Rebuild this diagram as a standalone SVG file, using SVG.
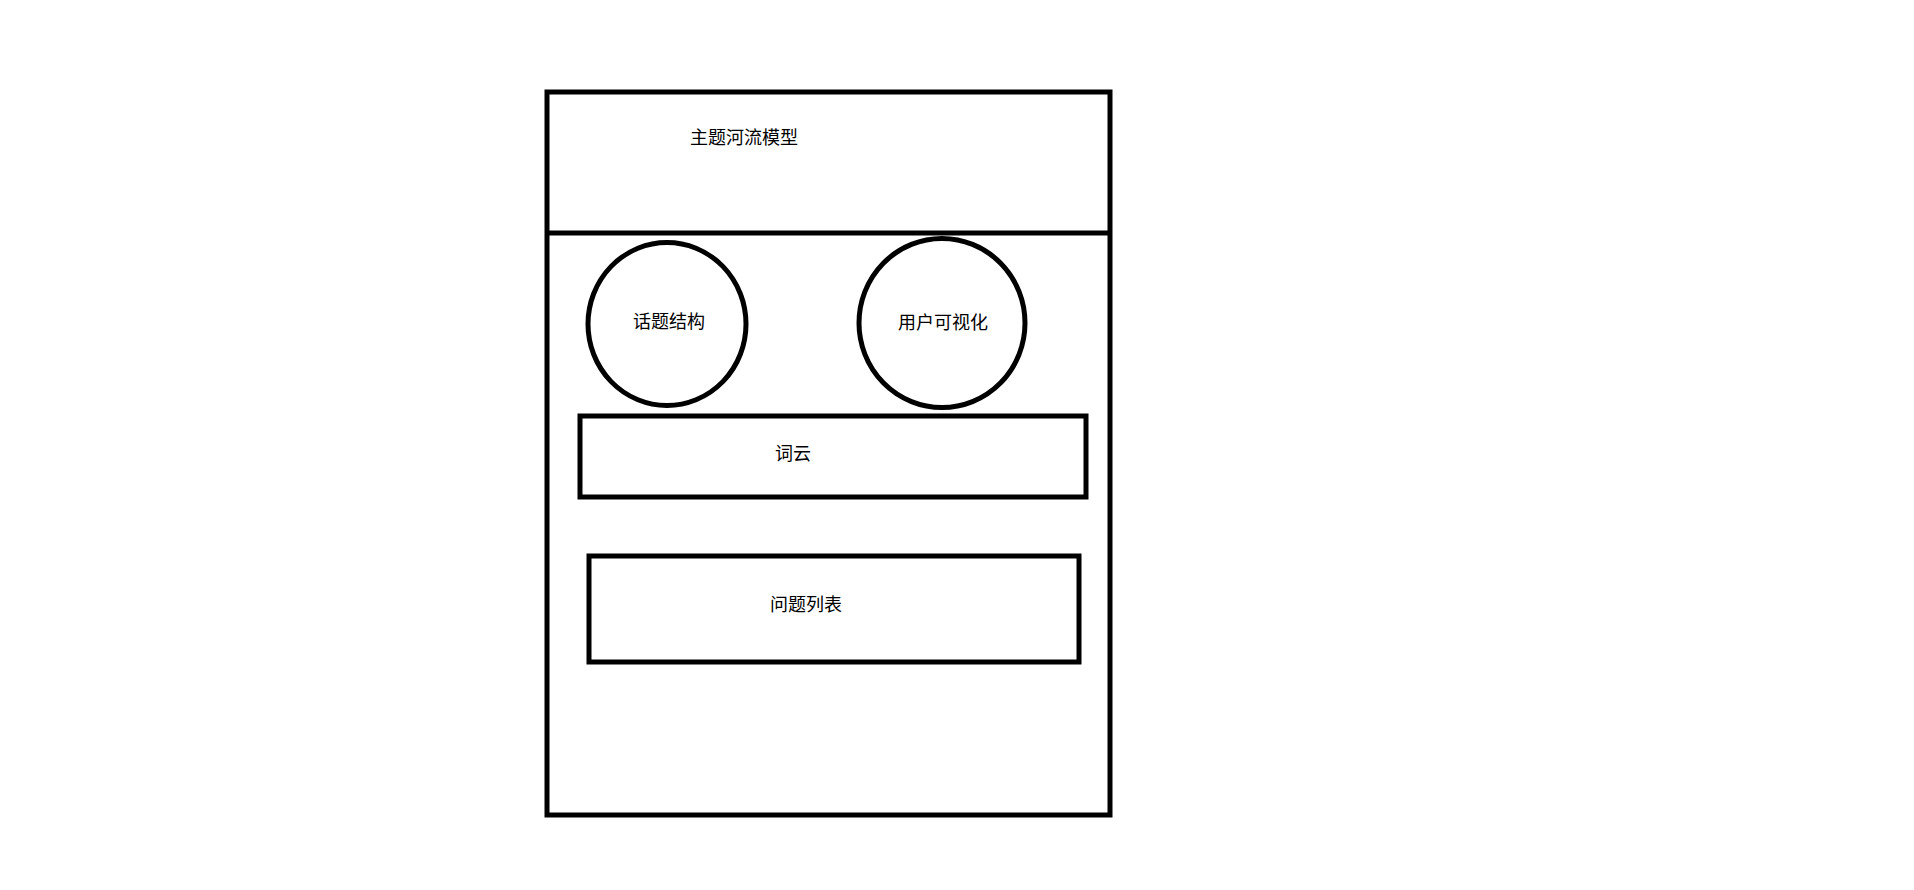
<svg xmlns="http://www.w3.org/2000/svg" width="1914" height="890" viewBox="0 0 1914 890">
<style>
.s{fill:none;stroke:#000;stroke-width:5}
.t{font-family:"Microsoft YaHei","Noto Sans CJK SC",sans-serif;font-size:18px;fill:#000;text-anchor:middle;dominant-baseline:central}
</style>
<rect width="1914" height="890" fill="#fff"/>
<g id="frame">
<rect class="s" x="547" y="92" width="563" height="723"/>
<line class="s" x1="547" y1="233" x2="1110" y2="233"/>
<text class="t" x="744" y="136">主题河流模型</text>
</g>
<g id="topic-structure">
<ellipse class="s" cx="667" cy="324" rx="79" ry="81.5"/>
<text class="t" x="669" y="320">话题结构</text>
</g>
<g id="user-vis">
<ellipse class="s" cx="942" cy="323" rx="83" ry="84.5"/>
<text class="t" x="943" y="321">用户可视化</text>
</g>
<g id="wordcloud">
<rect class="s" x="580" y="416" width="506" height="81"/>
<text class="t" x="793" y="452">词云</text>
</g>
<g id="question-list">
<rect class="s" x="589" y="556" width="490" height="106"/>
<text class="t" x="806" y="603">问题列表</text>
</g>
<g id="connectors"></g>
</svg>
